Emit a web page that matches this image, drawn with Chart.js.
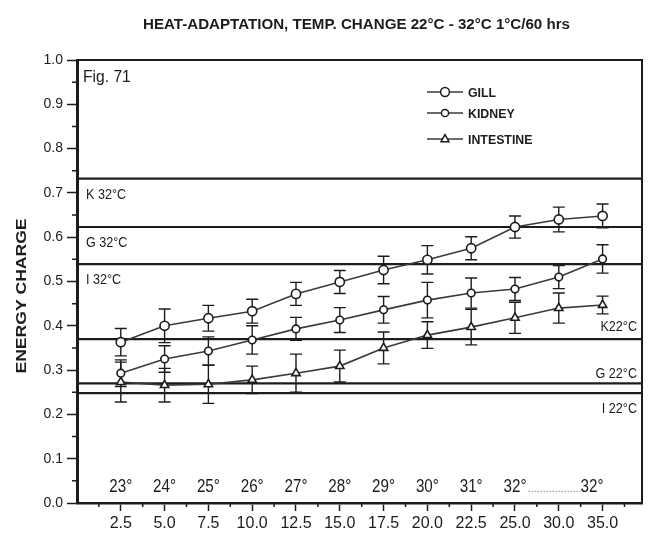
<!DOCTYPE html>
<html>
<head>
<meta charset="utf-8">
<script src="https://cdn.jsdelivr.net/npm/chart.js@4.4.1/dist/chart.umd.min.js"></script>
<style>
  html, body { margin: 0; padding: 0; background: #fff; }
  #wrap { width: 654px; height: 535px; }
</style>
</head>
<body>
<div id="wrap"><canvas id="c" width="654" height="535"></canvas></div>
<script>
// Sampling times (x categories) and the water temperature reached at each
const categories = ['2.5', '5.0', '7.5', '10.0', '12.5', '15.0', '17.5', '20.0', '22.5', '25.0', '30.0', '35.0'];
const temperatures = ['23°', '24°', '25°', '26°', '27°', '28°', '29°', '30°', '31°', '32°', '', '32°'];

// Energy charge per tissue (mean values)
const gill      = [0.363, 0.400, 0.417, 0.433, 0.472, 0.499, 0.526, 0.549, 0.575, 0.623, 0.640, 0.648];
const kidney    = [0.293, 0.325, 0.343, 0.368, 0.393, 0.413, 0.436, 0.458, 0.474, 0.483, 0.510, 0.551];
const intestine = [0.273, 0.266, 0.268, 0.278, 0.293, 0.309, 0.350, 0.379, 0.397, 0.418, 0.440, 0.447];

// Error ranges (±)
const gillErr      = [0.031, 0.038, 0.029, 0.027, 0.026, 0.026, 0.031, 0.032, 0.026, 0.025, 0.028, 0.027];
const kidneyErr    = [0.030, 0.030, 0.032, 0.032, 0.026, 0.028, 0.030, 0.040, 0.034, 0.026, 0.026, 0.032];
const intestineErr = [0.045, 0.038, 0.043, 0.031, 0.043, 0.036, 0.036, 0.030, 0.040, 0.035, 0.034, 0.020];

// Acclimation reference levels
const refLabels = ['K 32°C', 'G 32°C', 'I 32°C', 'K22°C', 'G 22°C', 'I 22°C'];
const refValues = [0.732, 0.623, 0.539, 0.370, 0.270, 0.248];

const seriesNames = ['GILL', 'KIDNEY', 'INTESTINE'];

const INK = '#1c1c1c';
const LINE = '#3a3a3a';
const NARROW = "'Liberation Sans Narrow', 'Liberation Sans', Arial, sans-serif";
const SANS = "'Liberation Sans', Arial, sans-serif";
const CLEAR = 'rgba(0,0,0,0)';
const xMax = categories.length + 0.9;

const toPoints = arr => arr.map((v, i) => ({ x: i + 1, y: v }));
const isMajorY = v => Math.round(v * 20) % 2 === 0;
const isMajorX = v => Number.isInteger(v) && v >= 1 && v <= categories.length;

const seriesStyle = [
  { pointStyle: 'circle', pointRadius: 4.6 },
  { pointStyle: 'circle', pointRadius: 3.8 },
  { pointStyle: 'triangle', pointRadius: 4.8 }
];
const seriesData = [gill, kidney, intestine];
const seriesErr = [gillErr, kidneyErr, intestineErr];

const datasets = [];
seriesData.forEach((arr, k) => {
  datasets.push({
    label: seriesNames[k],
    data: toPoints(arr),
    borderColor: LINE,
    borderWidth: 1.6,
    pointStyle: seriesStyle[k].pointStyle,
    pointRadius: seriesStyle[k].pointRadius,
    pointBackgroundColor: '#fff',
    pointBorderColor: INK,
    pointBorderWidth: 1.6,
    tension: 0
  });
});
refValues.forEach((v, k) => {
  datasets.push({
    label: refLabels[k],
    data: [{ x: 0, y: v }, { x: xMax, y: v }],
    borderColor: INK,
    borderWidth: 2.2,
    pointRadius: 0
  });
});

function drawMarker(ctx, style, x, y, r) {
  ctx.beginPath();
  if (style === 'triangle') {
    ctx.moveTo(x, y - r);
    ctx.lineTo(x + r * 0.9, y + r * 0.6);
    ctx.lineTo(x - r * 0.9, y + r * 0.6);
    ctx.closePath();
  } else {
    ctx.arc(x, y, r, 0, Math.PI * 2);
  }
  ctx.fillStyle = '#fff';
  ctx.fill();
  ctx.lineWidth = 1.5;
  ctx.strokeStyle = INK;
  ctx.stroke();
}

// text squeezed horizontally to imitate a condensed face
function condensedText(ctx, text, x, y, align, squeeze) {
  const w = ctx.measureText(text).width * squeeze;
  let left = x;
  if (align === 'center') left = x - w / 2;
  else if (align === 'right') left = x - w;
  ctx.save();
  ctx.textAlign = 'left';
  ctx.translate(left, y);
  ctx.scale(squeeze, 1);
  ctx.fillText(text, 0, 0);
  ctx.restore();
  return w;
}

const decor = {
  id: 'decor',
  beforeDatasetsDraw(chart) {
    const { ctx, scales: { x, y } } = chart;
    ctx.save();
    ctx.strokeStyle = INK;
    ctx.lineWidth = 1.4;
    seriesData.forEach((arr, k) => {
      arr.forEach((v, i) => {
        const e = seriesErr[k][i];
        const px = x.getPixelForValue(i + 1);
        const top = y.getPixelForValue(v + e);
        const bot = y.getPixelForValue(v - e);
        ctx.beginPath();
        ctx.moveTo(px, top); ctx.lineTo(px, bot);
        ctx.moveTo(px - 6, top); ctx.lineTo(px + 6, top);
        ctx.moveTo(px - 6, bot); ctx.lineTo(px + 6, bot);
        ctx.stroke();
      });
    });
    ctx.restore();
  },
  afterDatasetsDraw(chart) {
    const { ctx, chartArea: a, scales: { x, y } } = chart;
    ctx.save();
    ctx.fillStyle = INK;

    // reference level labels
    ctx.font = '14px ' + SANS;
    ctx.textBaseline = 'middle';
    refValues.forEach((v, k) => {
      const py = y.getPixelForValue(v);
      if (k < 3) {
        condensedText(ctx, refLabels[k], a.left + 9, py + 16, 'left', 0.9);
      } else {
        const off = k === 3 ? -12 : (k === 4 ? -9 : 16);
        condensedText(ctx, refLabels[k], a.right - 5, py + off, 'right', 0.9);
      }
    });

    // temperature labels along the bottom
    ctx.font = '19px ' + SANS;
    ctx.textBaseline = 'alphabetic';
    const ty = y.getPixelForValue(0.04) + 7;
    const last = temperatures.length - 1;
    const sq = 0.8;
    temperatures.forEach((t, i) => {
      if (!t) return;
      const px = x.getPixelForValue(i + 1);
      if (i === last) condensedText(ctx, t, px + 1, ty, 'right', sq);
      else condensedText(ctx, t, px, ty, 'center', sq);
    });
    // dotted hold period between the two 32° labels
    const w0 = ctx.measureText(temperatures[last - 2]).width * sq;
    const w1 = ctx.measureText(temperatures[last]).width * sq;
    ctx.beginPath();
    ctx.setLineDash([1.5, 1.5]);
    ctx.strokeStyle = '#8a8a8a';
    ctx.lineWidth = 1;
    ctx.moveTo(x.getPixelForValue(last - 1) + w0 / 2 + 2, ty - 1);
    ctx.lineTo(x.getPixelForValue(last + 1) + 1 - w1, ty - 1);
    ctx.stroke();
    ctx.setLineDash([]);

    // figure number
    ctx.font = '17px ' + SANS;
    condensedText(ctx, 'Fig. 71', a.left + 6, a.top + 22, 'left', 0.92);

    // legend
    ctx.font = 'bold 13px ' + SANS;
    ctx.textBaseline = 'middle';
    const ly = [a.top + 32, a.top + 53, a.top + 79];
    seriesNames.forEach((name, k) => {
      const x0 = a.right - 215, x1 = a.right - 179;
      ctx.beginPath();
      ctx.strokeStyle = LINE;
      ctx.lineWidth = 1.5;
      ctx.moveTo(x0, ly[k]); ctx.lineTo(x1, ly[k]);
      ctx.stroke();
      drawMarker(ctx, seriesStyle[k].pointStyle, (x0 + x1) / 2, ly[k], k === 1 ? 3.6 : 4.4);
      ctx.fillStyle = INK;
      condensedText(ctx, name, a.right - 174, ly[k] + 1, 'left', 0.95);
    });

    // minor tick marks
    ctx.strokeStyle = INK;
    ctx.lineWidth = 1.5;
    ctx.beginPath();
    for (let v = 0.5; v < xMax; v += 1) {
      const px = x.getPixelForValue(v);
      ctx.moveTo(px, a.bottom); ctx.lineTo(px, a.bottom + 4);
    }
    for (let v = 0.05; v < 1; v += 0.1) {
      const py = y.getPixelForValue(v);
      ctx.moveTo(a.left, py); ctx.lineTo(a.left - 5, py);
    }
    ctx.stroke();

    // plot frame
    ctx.lineWidth = 2;
    ctx.strokeRect(a.left, a.top, a.right - a.left, a.bottom - a.top);
    ctx.restore();
  },
  afterDraw(chart) {
    const { ctx, chartArea: a } = chart;
    ctx.save();
    ctx.fillStyle = INK;
    ctx.textBaseline = 'middle';
    ctx.textAlign = 'center';

    // chart title, condensed to the header width
    const title = 'HEAT-ADAPTATION, TEMP. CHANGE 22°C - 32°C 1°C/60 hrs';
    ctx.font = 'bold 14px ' + NARROW;
    const tw = ctx.measureText(title).width;
    ctx.translate((a.left + a.right) / 2 - 3, 25);
    ctx.scale(427 / tw, 1);
    ctx.fillText(title, 0, 0);
    ctx.restore();

    // vertical axis title
    ctx.save();
    ctx.fillStyle = INK;
    ctx.textBaseline = 'middle';
    ctx.textAlign = 'center';
    const yt = 'ENERGY CHARGE';
    ctx.font = 'bold 14px ' + SANS;
    const yw = ctx.measureText(yt).width;
    ctx.translate(22, 296);
    ctx.rotate(-Math.PI / 2);
    ctx.scale(155 / yw, 1);
    ctx.fillText(yt, 0, 0);
    ctx.restore();
  }
};

new Chart(document.getElementById('c'), {
  type: 'line',
  data: { datasets },
  options: {
    responsive: false,
    devicePixelRatio: 1,
    animation: false,
    events: [],
    layout: { padding: { top: 60, right: 12, bottom: 0, left: 0 } },
    plugins: { legend: { display: false }, tooltip: { enabled: false }, title: { display: false } },
    scales: {
      x: {
        type: 'linear',
        min: 0,
        max: xMax,
        afterFit(s) { s.height = 32; },
        ticks: {
          stepSize: 0.5,
          maxTicksLimit: 100,
          autoSkip: false,
          maxRotation: 0,
          includeBounds: false,
          padding: 3,
          color: INK,
          font: { family: NARROW, size: 16 },
          callback: v => isMajorX(v) ? categories[v - 1] : ''
        },
        grid: {
          drawOnChartArea: false,
          tickLength: 8,
          tickWidth: 1.5,
          tickColor: c => (c.tick && isMajorX(c.tick.value)) ? INK : CLEAR
        },
        border: { color: INK, width: 2.5 }
      },
      y: {
        min: 0,
        max: 1,
        afterFit(s) { s.width = 77; },
        ticks: {
          stepSize: 0.05,
          maxTicksLimit: 100,
          autoSkip: false,
          padding: 4,
          color: INK,
          font: { family: SANS, size: 14 },
          callback: v => isMajorY(v) ? v.toFixed(1) : ''
        },
        grid: {
          drawOnChartArea: false,
          tickLength: 10,
          tickWidth: 1.5,
          tickColor: c => (c.tick && isMajorY(c.tick.value)) ? INK : CLEAR
        },
        border: { color: INK, width: 3 }
      }
    }
  },
  plugins: [decor]
});
</script>
</body>
</html>
